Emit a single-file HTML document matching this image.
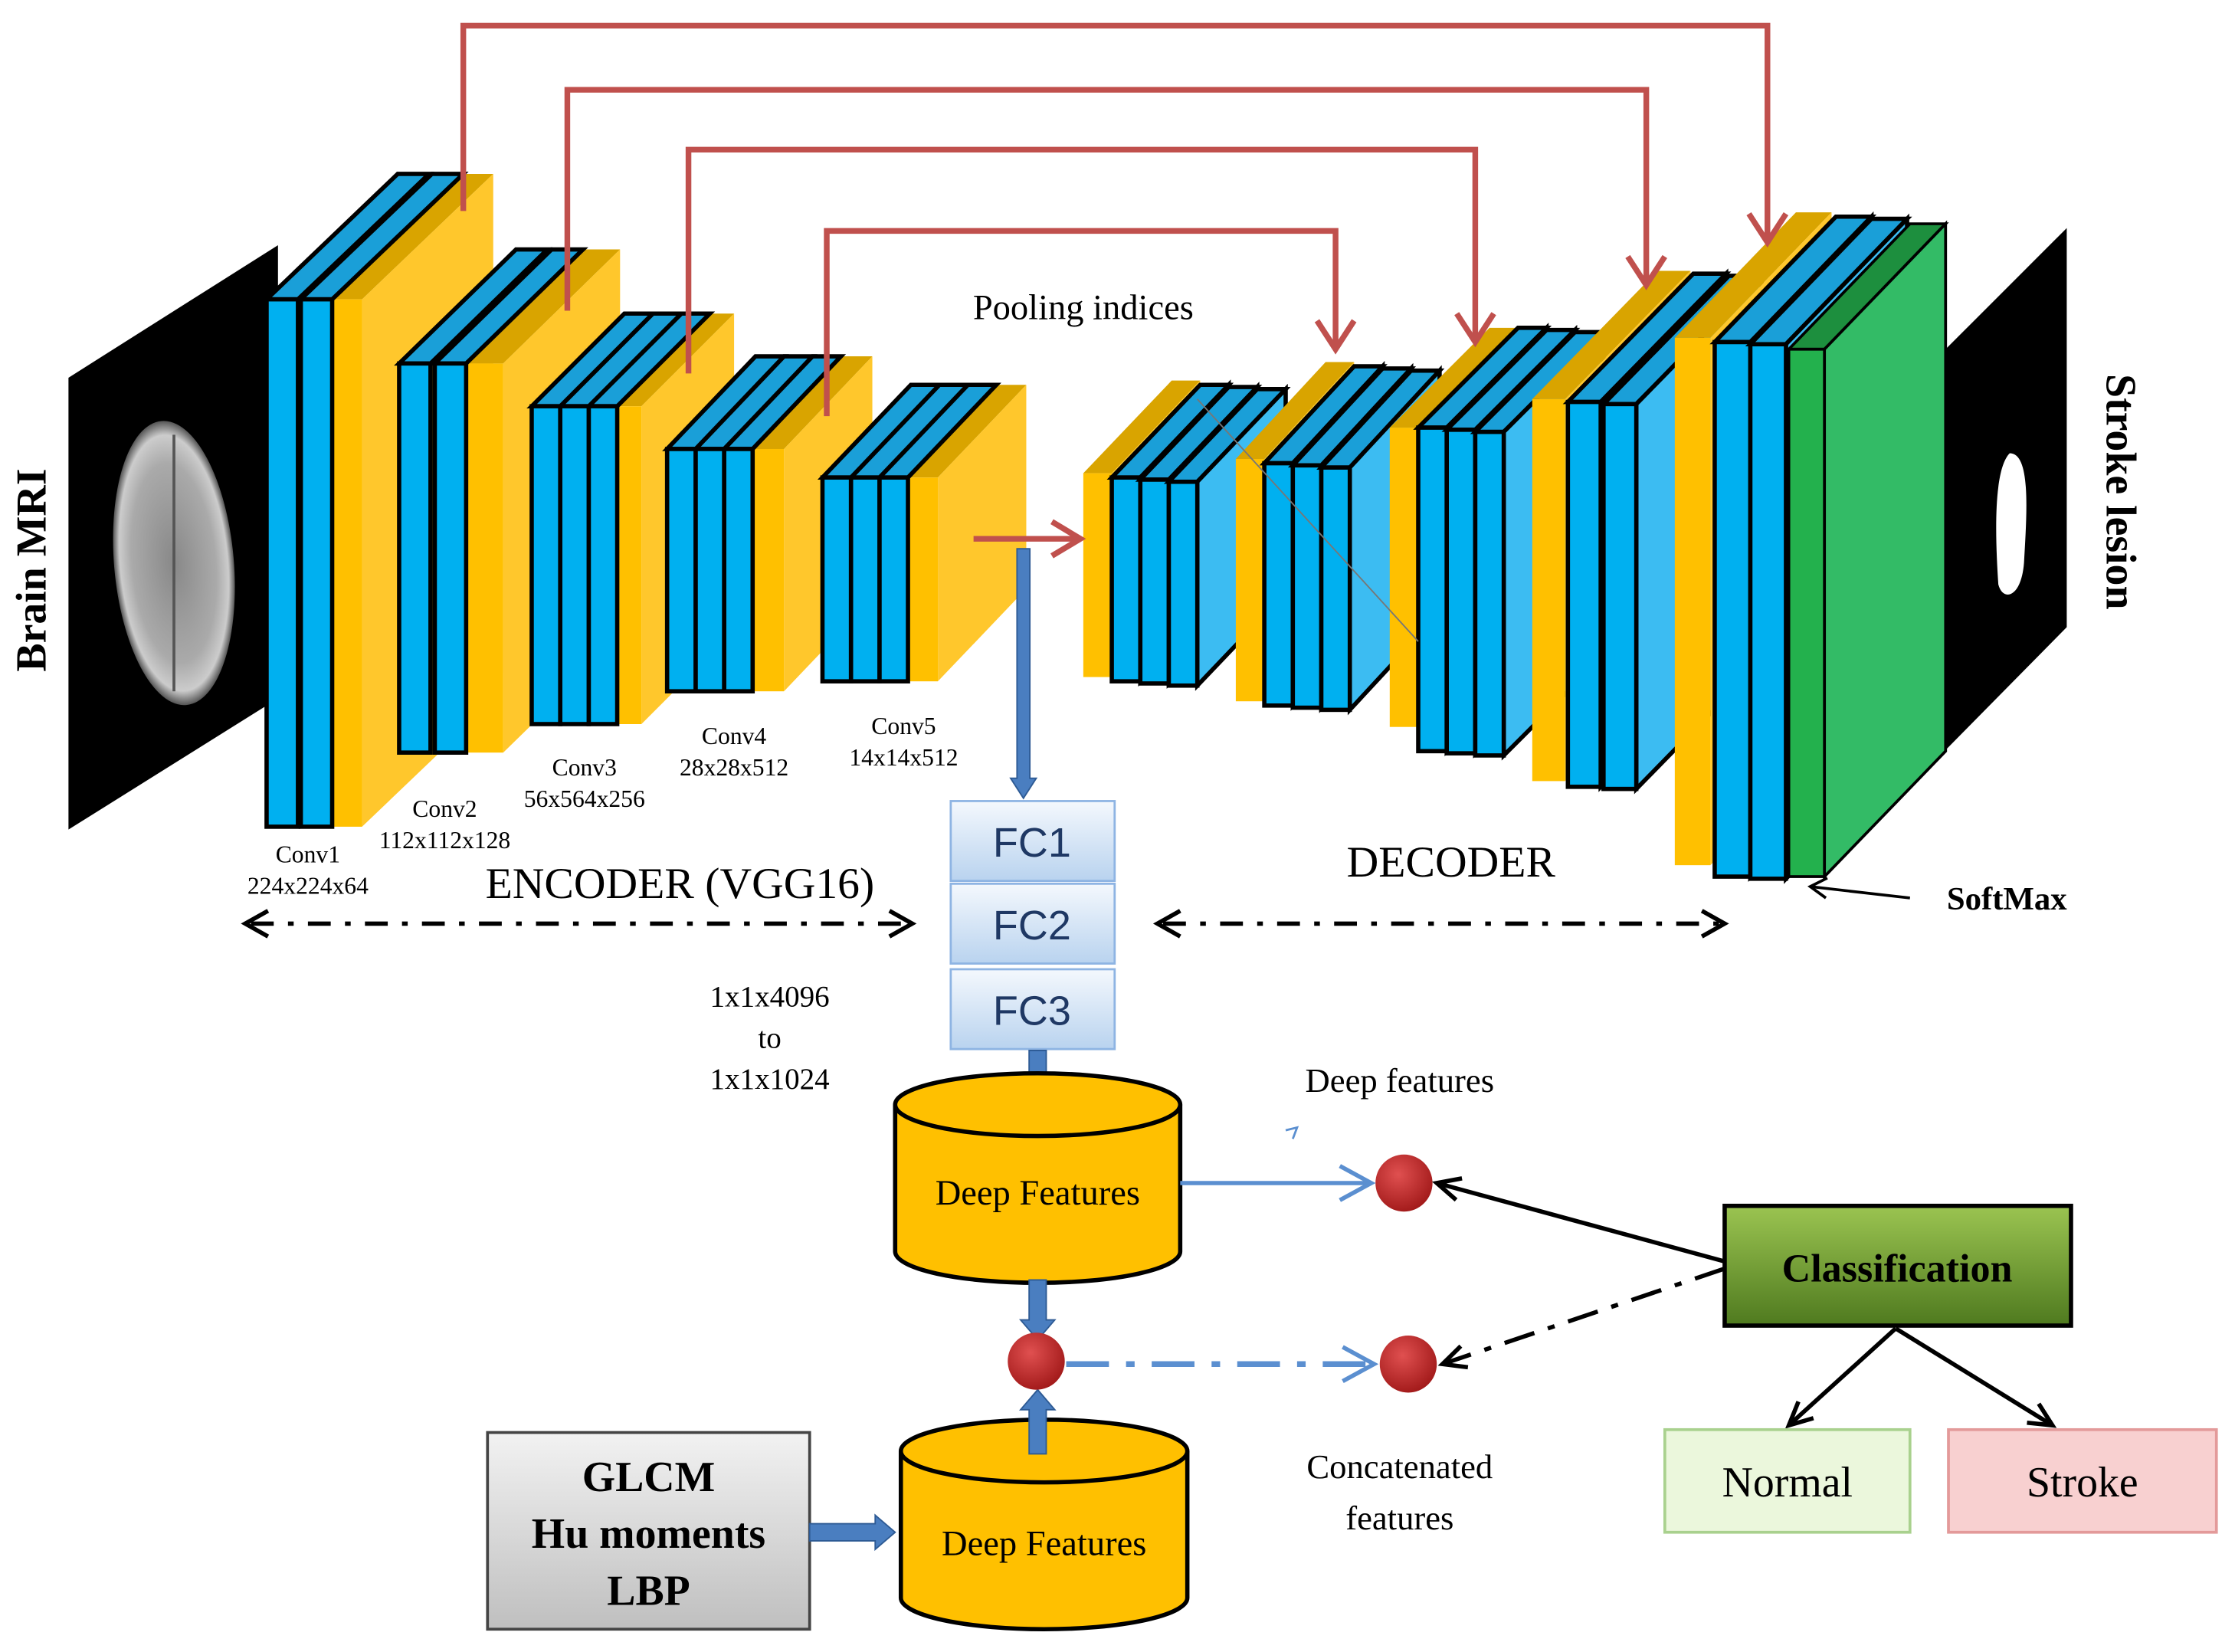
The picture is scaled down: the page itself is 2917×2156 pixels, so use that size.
<!DOCTYPE html>
<html><head><meta charset="utf-8"><style>html,body{margin:0;padding:0;background:#fff}svg{display:block}</style></head>
<body>
<svg id="s" xmlns="http://www.w3.org/2000/svg" width="2917" height="2156" viewBox="0 0 1568 1159" font-family="Liberation Serif, serif">
<defs>
<linearGradient id="fc" x1="0" y1="0" x2="0" y2="1"><stop offset="0" stop-color="#f4f8fd"/><stop offset="1" stop-color="#b9d3ef"/></linearGradient>
<linearGradient id="gl" x1="0" y1="0" x2="0" y2="1"><stop offset="0" stop-color="#f2f2f2"/><stop offset="1" stop-color="#bfbfbf"/></linearGradient>
<linearGradient id="cl" x1="0" y1="0" x2="0" y2="1"><stop offset="0" stop-color="#9bc451"/><stop offset="1" stop-color="#4f7a1f"/></linearGradient>
<radialGradient id="rc" cx="0.4" cy="0.35" r="0.7"><stop offset="0" stop-color="#e05050"/><stop offset="1" stop-color="#a01818"/></radialGradient>
<radialGradient id="br" cx="0.5" cy="0.5" r="0.5"><stop offset="0" stop-color="#888"/><stop offset="0.7" stop-color="#aaa"/><stop offset="0.9" stop-color="#ccc"/><stop offset="1" stop-color="#555"/></radialGradient>
</defs>
<g id="g"></g>
</svg>
<script>
const g=document.getElementById('g');let h='';
function slab(x,y,w,ht,dx,dy,c,side,top,sw,noside){
 const st=sw?`stroke="#000" stroke-width="${sw}"`:'';
 h+=`<polygon points="${x},${y} ${x+dx},${y-dy} ${x+w+dx},${y-dy} ${x+w},${y}" fill="${top}" ${st}/>`;
 if(!noside)h+=`<polygon points="${x+w},${y} ${x+w+dx},${y-dy} ${x+w+dx},${y+ht-dy} ${x+w},${y+ht}" fill="${side}" ${st}/>`;
 h+=`<rect x="${x}" y="${y}" width="${w}" height="${ht}" fill="${c}" ${st}/>`;
}
const B='#00b0f0',BS='#3cbcf2',Y='#ffc000',YS='#ffc72c',YT='#d9a400',G='#23b14d';
function enc(blues,by,bh,dx,dy,bw,backX){
 const bxEnd=blues[blues.length-1]+bw;
 slab(bxEnd,by,backX-dx-bxEnd,bh,dx,dy,Y,YS,YT,0);
 for(let i=blues.length-1;i>=0;i--)slab(blues[i],by,bw,bh,dx,dy,B,B,'#1a9fd8',3,true);
}
function dec(yx,yw,yy,yh,blues,by,bh,dx,dy,bw){
 slab(yx,yy,yw,yh,dx,dy,Y,YS,YT,0);
 for(let i=0;i<blues.length;i++)slab(blues[i],by+i*1.5,bw,bh,dx,dy,B,BS,'#1a9fd8',3);
}
h+=`<polygon points="48,265 195,172 195,490 48,582" fill="#000"/>`;
h+=`<ellipse cx="122" cy="395" rx="42" ry="100" fill="url(#br)" transform="rotate(-5 122 395)"/>`;
h+=`<line x1="122" y1="305" x2="122" y2="485" stroke="#555" stroke-width="2"/>`;
h+=`<polygon points="1310,300 1450,160 1450,440 1310,582" fill="#000"/>`;
h+=`<path d="M1410,318 C1425,318 1422,360 1420,395 C1418,420 1405,422 1402,410 C1400,380 1398,330 1410,318Z" fill="#fff"/>`;
enc([187,211],210,370,92,88,22,346);
enc([280,305],255,273,82,80,22,435);
enc([373,393,413],285,223,65,65,20,515);
enc([468,488,508],315,170,62,65,20,612);
enc([577,597,617],335,143,62,65,20,720);
dec(760,20,332,143,[780,800,820],335,143,62,65,20);
dec(867,20,322,170,[887,907,927],325,170,63,68,20);
dec(975,20,300,210,[995,1015,1035],300,227,70,70,20);
dec(1075,23,280,268,[1100,1125],282,270,88,90,23);
dec(1175,25,237,370,[1203,1228],240,375,85,88,25);
slab(1255,245,25,370,85,88,G,'#33bb66','#1d8f3e',2);
h+=`<line x1="840" y1="280" x2="995" y2="450" stroke="#777" stroke-width="1"/>`;
const R='#c0504d';
function skip(x1,y1,yt,x2,y2){h+=`<polyline points="${x1},${y1} ${x1},${yt} ${x2},${yt} ${x2},${y2}" fill="none" stroke="${R}" stroke-width="4"/>`;
 h+=`<polyline points="${x2-13},${y2-20} ${x2},${y2} ${x2+13},${y2-20}" fill="none" stroke="${R}" stroke-width="4"/>`;}
skip(325,148,18,1240,170);skip(398,218,63,1155,200);skip(483,262,105,1035,240);skip(580,292,162,937,245);
h+=`<line x1="683" y1="378" x2="756" y2="378" stroke="${R}" stroke-width="4"/><polyline points="738,366 758,378 738,390" fill="none" stroke="${R}" stroke-width="4"/>`;
function barrow(x1,y1,x2,y2,w){const a=Math.atan2(y2-y1,x2-x1),L=Math.hypot(x2-x1,y2-y1);
 h+=`<g transform="translate(${x1},${y1}) rotate(${a*180/Math.PI})"><polygon points="0,${-w/2} ${L-14},${-w/2} ${L-14},${-w} ${L},0 ${L-14},${w} ${L-14},${w/2} 0,${w/2}" fill="#4a7ec0" stroke="#2d5a94" stroke-width="1"/></g>`;}
barrow(718,385,718,560,9);
[['FC1',562],['FC2',620],['FC3',680]].forEach(([t,y])=>{h+=`<rect x="667" y="${y}" width="115" height="56" fill="url(#fc)" stroke="#8eb4e3" stroke-width="1.5"/><text x="724" y="${y+39}" font-family="Liberation Sans,sans-serif" font-size="29" text-anchor="middle" fill="#1f3864">${t}</text>`;});
barrow(728,737,728,782,12);
function cyl(x,y,w,hh,t,ty){h+=`<path d="M${x},${y} L${x},${y+hh} A${w/2},22 0 0 0 ${x+w},${y+hh} L${x+w},${y}" fill="${Y}" stroke="#000" stroke-width="3"/><ellipse cx="${x+w/2}" cy="${y}" rx="${w/2}" ry="22" fill="${Y}" stroke="#000" stroke-width="3"/><text x="${x+w/2}" y="${ty}" font-size="25" text-anchor="middle">${t}</text>`;}
cyl(628,775,200,103,'Deep Features',845);
cyl(632,1018,201,103,'Deep Features',1091);
barrow(728,898,728,940,12);
barrow(728,1020,728,975,12);
h+=`<rect x="342" y="1005" width="226" height="138" fill="url(#gl)" stroke="#444" stroke-width="2"/>`;
h+=`<g font-size="30" font-weight="bold" text-anchor="middle"><text x="455" y="1046">GLCM</text><text x="455" y="1086">Hu moments</text><text x="455" y="1126">LBP</text></g>`;
barrow(568,1075,628,1075,12);
[[727,955],[985,830],[988,957]].forEach(([x,y])=>h+=`<circle cx="${x}" cy="${y}" r="20" fill="url(#rc)"/>`);
const LB='#5b8fd0';
h+=`<line x1="828" y1="830" x2="962" y2="830" stroke="${LB}" stroke-width="3"/><polyline points="940,818 962,830 940,842" fill="none" stroke="${LB}" stroke-width="3"/>`;
h+=`<line x1="748" y1="957" x2="964" y2="957" stroke="${LB}" stroke-width="4" stroke-dasharray="30,12,6,12"/><polyline points="942,945 964,957 942,969" fill="none" stroke="${LB}" stroke-width="3"/>`;
h+=`<path d="M902,793 l8,-2 l-3,8" fill="none" stroke="${LB}" stroke-width="1.5"/>`;
h+=`<rect x="1210" y="846" width="243" height="84" fill="url(#cl)" stroke="#000" stroke-width="3"/><text x="1331" y="899" font-size="28" font-weight="bold" text-anchor="middle">Classification</text>`;
function karrow(x1,y1,x2,y2,dash){const a=Math.atan2(y2-y1,x2-x1);const p=(t)=>[x2-18*Math.cos(a+t),y2-18*Math.sin(a+t)];const A=p(0.45),C=p(-0.45);
 h+=`<line x1="${x1}" y1="${y1}" x2="${x2}" y2="${y2}" stroke="#000" stroke-width="3" ${dash?'stroke-dasharray="22,10,5,10"':''}/><polyline points="${A[0]},${A[1]} ${x2},${y2} ${C[0]},${C[1]}" fill="none" stroke="#000" stroke-width="3"/>`;}
karrow(1210,885,1008,830);karrow(1210,890,1012,957,true);
karrow(1330,932,1255,1000);karrow(1330,932,1440,1000);
h+=`<rect x="1168" y="1003" width="172" height="72" fill="#ebf7dc" stroke="#a9d18e" stroke-width="2"/><text x="1254" y="1050" font-size="30" text-anchor="middle">Normal</text>`;
h+=`<rect x="1367" y="1003" width="188" height="72" fill="#f8d0d0" stroke="#e39a9a" stroke-width="2"/><text x="1461" y="1050" font-size="30" text-anchor="middle">Stroke</text>`;
function span(x1,x2,y){h+=`<line x1="${x1+4}" y1="${y}" x2="${x2-4}" y2="${y}" stroke="#000" stroke-width="3" stroke-dasharray="16,10,4,10"/><polyline points="${x1+16},${y-9} ${x1},${y} ${x1+16},${y+9}" fill="none" stroke="#000" stroke-width="3"/><polyline points="${x2-16},${y-9} ${x2},${y} ${x2-16},${y+9}" fill="none" stroke="#000" stroke-width="3"/>`;}
span(172,640,648);span(812,1210,648);
h+=`<text x="760" y="224" font-size="25" text-anchor="middle">Pooling indices</text>`;
h+=`<g font-size="17" text-anchor="middle"><text x="216" y="605">Conv1</text><text x="216" y="627">224x224x64</text>
<text x="312" y="573">Conv2</text><text x="312" y="595">112x112x128</text>
<text x="410" y="544">Conv3</text><text x="410" y="566">56x564x256</text>
<text x="515" y="522">Conv4</text><text x="515" y="544">28x28x512</text>
<text x="634" y="515">Conv5</text><text x="634" y="537">14x14x512</text></g>`;
h+=`<text x="477" y="630" font-size="31" text-anchor="middle">ENCODER (VGG16)</text><text x="1018" y="615" font-size="31" text-anchor="middle">DECODER</text>`;
h+=`<g font-size="21" text-anchor="middle"><text x="540" y="706">1x1x4096</text><text x="540" y="735">to</text><text x="540" y="764">1x1x1024</text></g>`;
h+=`<text x="982" y="766" font-size="24" text-anchor="middle">Deep features</text>`;
h+=`<text x="982" y="1037" font-size="24" text-anchor="middle">Concatenated</text><text x="982" y="1073" font-size="24" text-anchor="middle">features</text>`;
h+=`<text x="1408" y="638" font-size="23" font-weight="bold" text-anchor="middle">SoftMax</text><line x1="1340" y1="630" x2="1270" y2="622" stroke="#000" stroke-width="2"/><polyline points="1282,616 1270,622 1281,630" fill="none" stroke="#000" stroke-width="2"/>`;
h+=`<text transform="translate(32,400) rotate(-90)" font-size="30" font-weight="bold" text-anchor="middle">Brain MRI</text>`;
h+=`<text transform="translate(1478,345) rotate(90)" font-size="30" font-weight="bold" text-anchor="middle">Stroke lesion</text>`;
g.innerHTML=h;
</script>
</body></html>
